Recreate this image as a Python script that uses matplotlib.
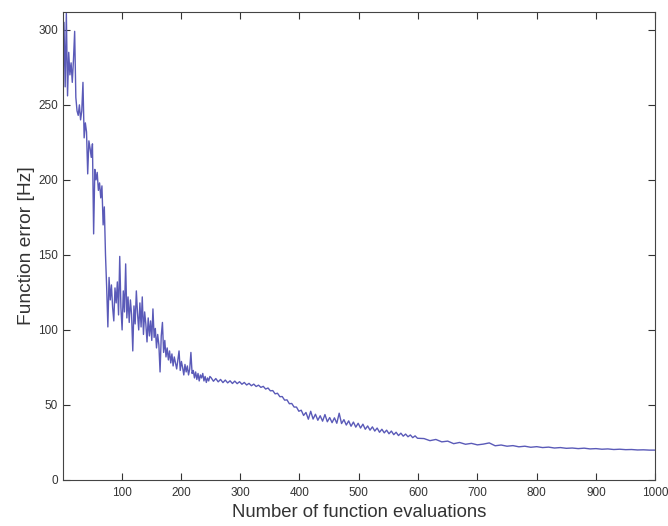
import numpy as np
import matplotlib
matplotlib.use('Agg')
import matplotlib.pyplot as plt

plt.rcParams['font.family'] = ['Liberation Sans', 'DejaVu Sans']

# values, in three segments of evaluations
evals_a = np.arange(1, 251, 2)
err_a = [250, 305, 262, 311, 256, 285, 270, 278, 265, 280,
         299, 255, 246, 243, 250, 240, 246, 265, 228, 238,
         232, 204, 226, 221, 215, 224, 164, 207, 200, 205,
         193, 198, 188, 196, 170, 182, 150, 128, 102, 135,
         120, 130, 115, 106, 128, 118, 132, 110, 149, 115,
         100, 126, 112, 144, 108, 122, 105, 120, 110, 86,
         116, 104, 126, 111, 100, 118, 102, 122, 97, 112,
         104, 92, 108, 96, 106, 93, 114, 95, 101, 88,
         97, 90, 72, 96, 105, 85, 93, 82, 88, 80,
         86, 78, 84, 76, 82, 78, 74, 80, 86, 73,
         79, 75, 70, 77, 72, 76, 70, 74, 85, 71,
         73, 68, 72, 67, 71, 66, 70, 68, 71, 66,
         69, 65, 68, 66, 69]

evals_b = np.arange(251, 600, 4)
err_b = [68.2, 65.8, 67.6, 65.4, 67.0, 64.9, 66.6, 64.7, 66.1, 64.3,
         65.9, 64.2, 65.5, 63.8, 65.0, 63.3, 64.4, 62.8, 63.9, 62.3,
         63.2, 61.7, 62.4, 60.6, 61.3, 59.4, 59.6, 57.4, 57.8, 55.5,
         55.6, 53.2, 53.4, 50.8, 51.0, 48.6, 48.6, 45.8, 46.5, 43.0,
         45.0, 40.5, 45.8, 40.6, 43.8, 39.8, 42.8, 39.2, 43.6, 38.8,
         41.6, 38.2, 41.4, 37.8, 44.5, 37.6, 40.2, 36.6, 39.4, 35.8,
         38.6, 35.2, 37.8, 34.6, 37.2, 33.8, 36.0, 33.2, 35.4, 32.6,
         34.6, 31.8, 33.8, 31.4, 33.2, 30.8, 32.6, 30.2, 31.8, 29.6,
         31.2, 29.2, 30.6, 28.8, 30.0, 28.2, 29.4, 27.8]

evals_c = np.arange(610, 1001, 10)
err_c = [27.6, 26.2, 27.0, 25.4, 25.9, 24.2, 25.0, 23.8, 24.4, 23.4,
         23.9, 24.7, 22.8, 23.3, 22.5, 22.9, 22.1, 22.5, 21.8, 22.2,
         21.6, 21.9, 21.3, 21.6, 21.1, 21.3, 20.9, 21.2, 20.7, 20.9,
         20.5, 20.7, 20.3, 20.5, 20.2, 20.3, 20.0, 20.1, 19.9, 19.9]

x = np.concatenate([evals_a, evals_b, evals_c])
y = np.concatenate([err_a, err_b, err_c])

fig = plt.figure(figsize=(6.68, 5.26), dpi=100)
ax = fig.add_axes([0.094, 0.0875, 0.887, 0.89])
ax.plot(x, y, color='#5a5ab8', linewidth=1.0)

ax.set_xlim(1, 1000)
ax.set_ylim(0, 312)
ax.set_xticks(range(100, 1001, 100))
ax.set_yticks(range(0, 301, 50))
ax.tick_params(direction='in', top=True, right=True, length=5,
               labelsize=8.5, colors='#333333')
ax.tick_params(axis='x', pad=5)
for s in ax.spines.values():
    s.set_color('#444444')
    s.set_linewidth(0.8)

ax.set_xlabel('Number of function evaluations', fontsize=13.3, color='#333333', labelpad=4)
ax.set_ylabel('Function error [Hz]', fontsize=13.8, color='#333333', labelpad=2)

fig.savefig('out.png', dpi=100)
